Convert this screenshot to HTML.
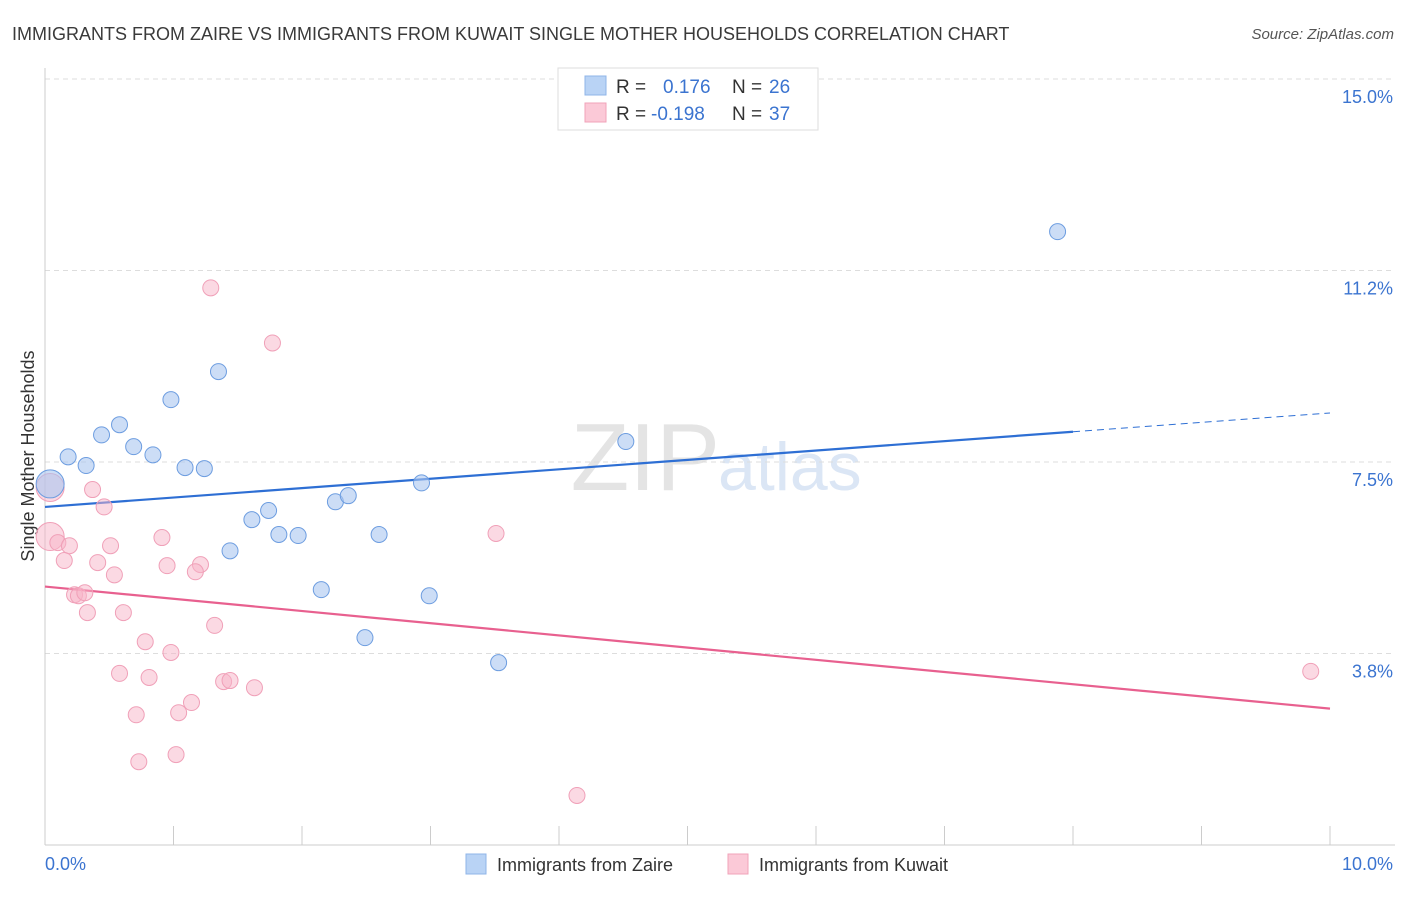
<!DOCTYPE html>
<html><head><meta charset="utf-8">
<style>
body{margin:0;background:#fff;font-family:"Liberation Sans",sans-serif;}
svg text{font-family:"Liberation Sans",sans-serif;}
</style></head>
<body>
<svg id="chart" width="1406" height="892" xmlns="http://www.w3.org/2000/svg">
<text x="12" y="40" font-size="18" fill="#3a3a3a">IMMIGRANTS FROM ZAIRE VS IMMIGRANTS FROM KUWAIT SINGLE MOTHER HOUSEHOLDS CORRELATION CHART</text>
<text x="1394" y="39" font-size="15" fill="#555" font-style="italic" text-anchor="end">Source: ZipAtlas.com</text>
<text x="720" y="490" font-size="96" fill="#e4e4e4" text-anchor="end" font-family="Liberation Serif">ZIP</text>
<text x="718" y="490" font-size="68" fill="#dbe6f5">atlas</text>
<text transform="translate(34,456) rotate(-90)" font-size="18" fill="#333" text-anchor="middle">Single Mother Households</text>
<g id="grid"></g><g id="axes"></g><g id="lines"></g><g id="pts"></g>
<g>
<rect x="558" y="68" width="260" height="62" fill="#fff" stroke="#ddd"/>
<rect x="585" y="76" width="21" height="19" fill="#b9d3f5" stroke="#8fb4e8"/>
<rect x="585" y="103" width="21" height="19" fill="#fbc9d7" stroke="#f0a3ba"/>
<text x="616" y="93" font-size="19" fill="#333">R = </text><text x="663" y="93" font-size="19" fill="#3b74d0">0.176</text>
<text x="732" y="93" font-size="19" fill="#333">N = </text><text x="769" y="93" font-size="19" fill="#3b74d0">26</text>
<text x="616" y="120" font-size="19" fill="#333">R = </text><text x="651" y="120" font-size="19" fill="#3b74d0">-0.198</text>
<text x="732" y="120" font-size="19" fill="#333">N = </text><text x="769" y="120" font-size="19" fill="#3b74d0">37</text>
</g>
<g>
<rect x="466" y="854" width="20" height="20" fill="#b9d3f5" stroke="#8fb4e8"/>
<text x="497" y="871" font-size="18" fill="#333">Immigrants from Zaire</text>
<rect x="728" y="854" width="20" height="20" fill="#fbc9d7" stroke="#f0a3ba"/>
<text x="759" y="871" font-size="18" fill="#333">Immigrants from Kuwait</text>
</g>
</svg>
<script>
const yTicks=[3.75,7.5,11.25,15];
const yTickLabels=["3.8%","7.5%","11.2%","15.0%"];
const xTickLabels=["0.0%","10.0%"];
const zaireX=[0.04,0.18,0.32,0.44,0.58,0.69,0.84,0.98,1.09,1.24,1.35,1.44,1.61,1.74,1.82,1.97,2.15,2.26,2.36,2.49,2.60,2.93,2.99,3.53,4.52,7.88];
const zaireY=[7.07,7.60,7.43,8.03,8.23,7.80,7.64,8.72,7.39,7.37,9.27,5.76,6.37,6.55,6.08,6.06,5.00,6.72,6.84,4.06,6.08,7.09,4.88,3.57,7.90,12.01];
const kuwaitX=[0.04,0.04,0.10,0.19,0.15,0.37,0.46,0.51,0.41,0.54,0.23,0.26,0.31,0.33,0.61,0.91,0.95,1.21,1.17,1.29,1.77,1.32,0.78,0.98,0.58,0.81,1.39,1.44,1.63,1.14,1.04,0.71,0.73,1.02,3.51,4.14,9.85];
const kuwaitY=[7.0,6.04,5.92,5.86,5.57,6.96,6.62,5.86,5.53,5.29,4.90,4.88,4.94,4.55,4.55,6.02,5.47,5.49,5.35,10.91,9.83,4.30,3.98,3.77,3.36,3.28,3.20,3.22,3.08,2.79,2.59,2.55,1.63,1.77,6.10,0.97,3.40];
const zaireTrend=[6.62,8.46];
const kuwaitTrend=[5.06,2.67];
const NS="http://www.w3.org/2000/svg";
const X=v=>45+v*128.5, Y=v=>845-v*51.07;
function mk(tag,attrs,parent){const e=document.createElementNS(NS,tag);for(const k in attrs)e.setAttribute(k,attrs[k]);document.getElementById(parent).appendChild(e);return e;}
yTicks.forEach((t,i)=>{
 const g=mk('line',{x1:45,x2:1395,y1:Y(t),y2:Y(t),stroke:'#ddd','stroke-dasharray':'5,4'},'grid');
 
 
 const l=mk('text',{x:1393,y:Y(t)+24,'font-size':18,fill:'#3b74d0','text-anchor':'end'},'grid');
 l.textContent=yTickLabels[i];
 
 
});
const ax=mk('line',{x1:45,x2:45,y1:68,y2:845,stroke:'#ccc'},'axes');


const bx=mk('line',{x1:45,x2:1395,y1:845,y2:845,stroke:'#ccc'},'axes');


for(let i=0;i<=10;i++){
 const t=mk('line',{x1:X(i),x2:X(i),y1:826,y2:845,stroke:'#ccc'},'axes');
 
 
}
[[0,'start',45],[10,'end',1393]].forEach((d,i)=>{
 const l=mk('text',{x:d[2],y:870,'font-size':18,fill:'#3b74d0','text-anchor':d[1]},'axes');
 l.textContent=xTickLabels[i];
 
 
});
const zs=zaireTrend[0],zk=(zaireTrend[1]-zaireTrend[0])/10;
const b1=mk('line',{x1:X(0),y1:Y(zs),x2:X(8),y2:Y(zs+zk*8),stroke:'#2e6fd4','stroke-width':2.2},'lines');


const b2=mk('line',{x1:X(8),y1:Y(zs+zk*8),x2:X(10),y2:Y(zaireTrend[1]),stroke:'#2e6fd4','stroke-width':1,'stroke-dasharray':'7,5'},'lines');


const p1=mk('line',{x1:X(0),y1:Y(kuwaitTrend[0]),x2:X(10),y2:Y(kuwaitTrend[1]),stroke:'#e8608f','stroke-width':2.2},'lines');


kuwaitX.forEach((x,i)=>{
 const c=mk('circle',{cx:X(x),cy:Y(kuwaitY[i]),r:i<2?14:8,fill:'rgba(248,180,200,0.5)',stroke:'#f0a0b8','stroke-width':1},'pts');
 
 
});
zaireX.forEach((x,i)=>{
 const c=mk('circle',{cx:X(x),cy:Y(zaireY[i]),r:i==0?14:8,fill:'rgba(170,198,240,0.6)',stroke:'#6d9de0','stroke-width':1},'pts');
 
 
});
</script>
</body></html>
